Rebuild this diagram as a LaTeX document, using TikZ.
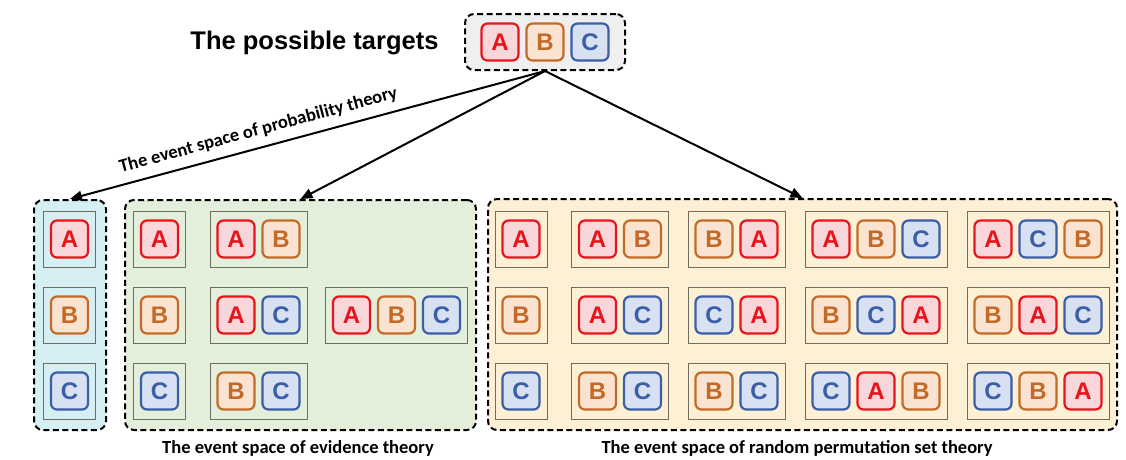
\documentclass[tikz,border=0pt]{standalone}
\usepackage{fontspec}
\setmainfont{Carlito}
\newfontfamily\arialfont{Liberation Sans}
\usetikzlibrary{arrows.meta}
\definecolor{colA}{HTML}{E8141C}
\definecolor{fillA}{HTML}{F9D6DA}
\definecolor{colB}{HTML}{C46A28}
\definecolor{fillB}{HTML}{FBE3D2}
\definecolor{colC}{HTML}{3B5EA6}
\definecolor{fillC}{HTML}{D8E1F2}
\definecolor{panelP}{HTML}{D5EFF2}
\definecolor{panelE}{HTML}{E3EFDA}
\definecolor{panelR}{HTML}{FDF0D4}
\definecolor{panelT}{HTML}{EFEFEF}
\definecolor{grpline}{HTML}{6E6E60}
\tikzset{
  panel/.style={draw=black, line width=2pt, dash pattern=on 6pt off 3.5pt, rounded corners=9pt, inner sep=0pt},
  grp/.style={draw=grpline, line width=0.9pt, minimum height=56pt, inner sep=0pt},
  tilebase/.style={line width=2.2pt, rounded corners=6pt, minimum width=37pt, minimum height=37pt, inner sep=0pt, font=\fontsize{24}{24}\selectfont\arialfont\bfseries},
  tile/.style={tilebase, draw=col#1, fill=fill#1, text=col#1},
  conn/.style={line width=2pt, -{Triangle[length=12pt,width=10pt]}},
  lbl/.style={font=\fontsize{18.5}{18.5}\selectfont\bfseries},
  ttl/.style={font=\fontsize{25.5}{25.5}\selectfont\arialfont\bfseries}
}
\newcommand{\mkgroup}[5]{%
  \node[grp, minimum width={52+45*(#4-1)}] (#1) at (#2,#3) {};
  \foreach \L [count=\i] in {#5} {%
    \pgfmathsetmacro\tx{#2+(\i-(#4+1)/2)*45}%
    \edef\tmp{\noexpand\node[tile=\L] (#1-\i) at (\tx,#3) {\L};}\tmp
  }%
}
\begin{document}
\begin{tikzpicture}[x=1pt,y=-1pt]
\useasboundingbox (0,0) rectangle (1126,459);
\fill[white] (0,0) rectangle (1126,459);
% title and top box
\node[ttl, anchor=base east] (title) at (442,49.5) {The possible targets};
\node[panel, fill=panelT, minimum width=160pt, minimum height=56pt] (top) at (545,42) {};
\foreach \L [count=\i] in {A,B,C} {%
  \pgfmathsetmacro\tx{545+(\i-2)*45}%
  \edef\tmp{\noexpand\node[tile=\L] (top-\i) at (\tx,42) {\L};}\tmp
}
% panels
\node[panel, fill=panelP, minimum width=72pt, minimum height=230pt] (prob) at (70,315) {};
\node[panel, fill=panelE, minimum width=351pt, minimum height=230pt] (evid) at (300.5,315) {};
\node[panel, fill=panelR, minimum width=629pt, minimum height=231pt] (rps) at (802.5,314.5) {};
% probability
\mkgroup{p1}{69.5}{239}{1}{A}
\mkgroup{p2}{69.5}{315}{1}{B}
\mkgroup{p3}{69.5}{391}{1}{C}
% evidence
\mkgroup{e1}{159.5}{239}{1}{A}
\mkgroup{e2}{258.5}{239}{2}{A,B}
\mkgroup{e3}{159.5}{315}{1}{B}
\mkgroup{e4}{258.5}{315}{2}{A,C}
\mkgroup{e5}{396.5}{315}{3}{A,B,C}
\mkgroup{e6}{159.5}{391}{1}{C}
\mkgroup{e7}{258.5}{391}{2}{B,C}
% random permutation set
\mkgroup{r11}{521}{239}{1}{A}
\mkgroup{r12}{620}{239}{2}{A,B}
\mkgroup{r13}{736.5}{239}{2}{B,A}
\mkgroup{r14}{876}{239}{3}{A,B,C}
\mkgroup{r15}{1038}{239}{3}{A,C,B}
\mkgroup{r21}{521}{315}{1}{B}
\mkgroup{r22}{620}{315}{2}{A,C}
\mkgroup{r23}{736.5}{315}{2}{C,A}
\mkgroup{r24}{876}{315}{3}{B,C,A}
\mkgroup{r25}{1038}{315}{3}{B,A,C}
\mkgroup{r31}{521}{391}{1}{C}
\mkgroup{r32}{620}{391}{2}{B,C}
\mkgroup{r33}{736.5}{391}{2}{B,C}
\mkgroup{r34}{876}{391}{3}{C,A,B}
\mkgroup{r35}{1038}{391}{3}{C,B,A}
% connectors
\draw[conn] (top.south) -- node[lbl, pos=0.594, sloped, above=5pt] (plabel) {The event space of probability theory} (prob.north);
\draw[conn] (top.south) -- (evid.north);
\draw[conn] (top.south) -- (rps.north);
% bottom labels
\node[lbl, anchor=base] (elabel) at (298,453) {The event space of evidence theory};
\node[lbl, anchor=base west] (rlabel) at (598,453) {The event space of random permutation set theory};
\end{tikzpicture}
\end{document}
